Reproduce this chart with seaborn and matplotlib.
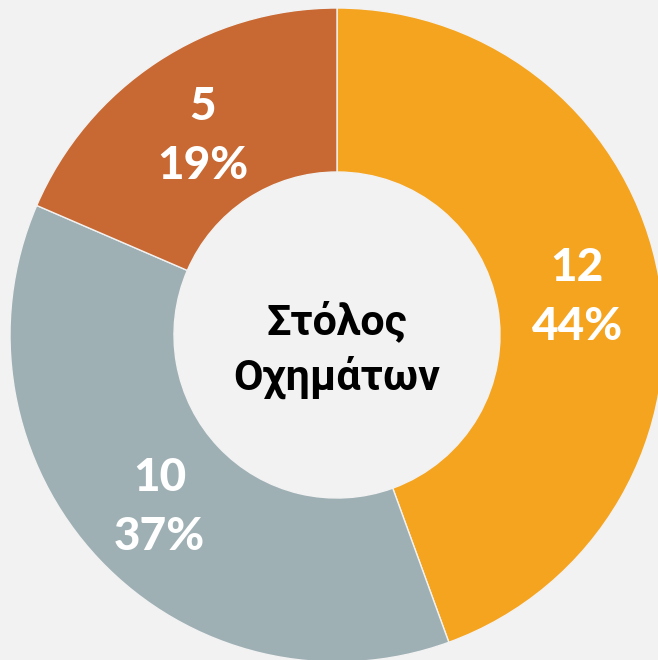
import matplotlib
matplotlib.use("Agg")
import matplotlib.pyplot as plt
import seaborn as sns
import numpy as np

categories = ["A", "B", "C"]
values = [12, 10, 5]
percent_labels = ["44%", "37%", "19%"]
colors = ["#F5A420", "#9FB0B5", "#C86832"]
center_title = "Στόλος\nΟχημάτων"

sns.set_theme(style="white")
plt.rcParams["font.family"] = ["Lato", "DejaVu Sans"]

bg = "#F2F2F2"
fig = plt.figure(figsize=(6.58, 6.60), dpi=100, facecolor=bg)
ax = fig.add_axes([0, 0, 1, 1])
ax.set_facecolor(bg)

R = 327
w = 164
wedges, _ = ax.pie(values, colors=sns.color_palette(colors), startangle=90,
                   counterclock=False, radius=R,
                   wedgeprops=dict(width=w, edgecolor=bg, linewidth=1.0))

rl = R - w / 2 - 1
for v, p, wd in zip(values, percent_labels, wedges):
    ang = (wd.theta1 + wd.theta2) / 2
    x = rl * np.cos(np.radians(ang))
    y = rl * np.sin(np.radians(ang))
    ax.text(x, y - 5, f"{v}\n{p}", ha="center", va="center", color="white",
            fontsize=33, fontweight="black", linespacing=1.5,
            family=["Lato", "DejaVu Sans"])

ax.text(0, -15, center_title, ha="center", va="center", color="black",
        fontsize=31, fontweight="bold", linespacing=1.35,
        family=["Roboto", "DejaVu Sans"])

ax.set_xlim(-337, 658 - 337)
ax.set_ylim(-(660 - 335), 335)
ax.set_aspect("equal")
ax.axis("off")
fig.savefig("out.png", dpi=100, facecolor=bg)
